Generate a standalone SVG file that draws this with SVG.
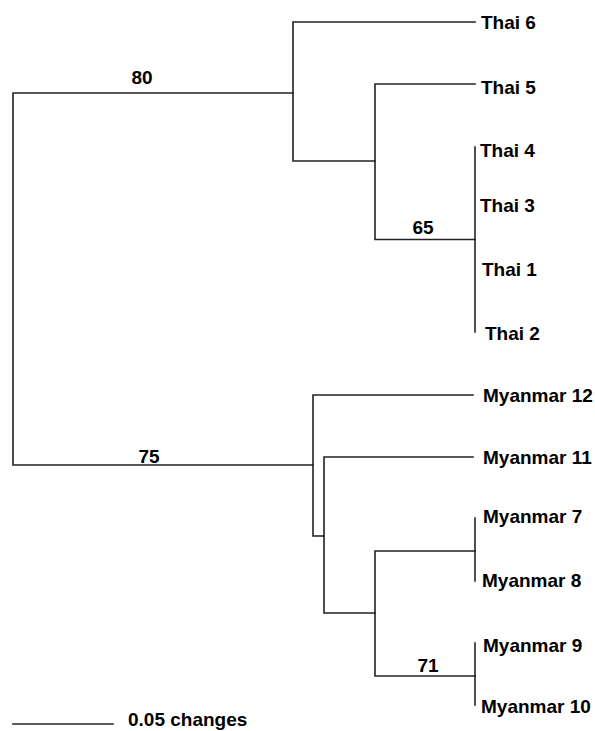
<svg xmlns="http://www.w3.org/2000/svg" width="595" height="731" viewBox="0 0 595 731">
<style>
.br{fill:none;stroke:#222;stroke-width:1.6;stroke-linecap:square}
.lb{font-family:"Liberation Sans",Arial,sans-serif;font-weight:bold;font-size:19px;fill:#000}
.bs{font-family:"Liberation Sans",Arial,sans-serif;font-weight:bold;font-size:19px;fill:#000;text-anchor:middle}
</style>
<rect width="595" height="731" fill="#fff"/>
<g id="connectors">
<path class="br" d="M293,93 H13 V465 H313"/>
<path class="br" d="M475,22 H293 V161 H375"/>
<path class="br" d="M475,84 H375 V239.5 H475"/>
<path class="br" d="M475,147 V332"/>
<path class="br" d="M473,395 H313 V536 H324"/>
<path class="br" d="M473,457 H324 V613 H375"/>
<path class="br" d="M475,551 H375 V676 H475"/>
<path class="br" d="M475,518 V581"/>
<path class="br" d="M475,643 V705"/>
<path class="br" d="M13,724 H113"/>
</g>
<g id="bootstrap">
<text class="bs" x="142" y="84">80</text>
<text class="bs" x="149" y="462.5">75</text>
<text class="bs" x="423" y="234">65</text>
<text class="bs" x="428" y="671.5">71</text>
</g>
<g id="thai6"><text class="lb" x="481" y="29">Thai 6</text></g>
<g id="thai5"><text class="lb" x="481" y="94">Thai 5</text></g>
<g id="thai4"><text class="lb" x="480" y="157">Thai 4</text></g>
<g id="thai3"><text class="lb" x="480" y="212">Thai 3</text></g>
<g id="thai1"><text class="lb" x="482" y="276">Thai 1</text></g>
<g id="thai2"><text class="lb" x="485" y="340">Thai 2</text></g>
<g id="myanmar12"><text class="lb" x="483" y="401.5">Myanmar 12</text></g>
<g id="myanmar11"><text class="lb" x="483" y="464">Myanmar 11</text></g>
<g id="myanmar7"><text class="lb" x="483" y="522.5">Myanmar 7</text></g>
<g id="myanmar8"><text class="lb" x="482" y="586.5">Myanmar 8</text></g>
<g id="myanmar9"><text class="lb" x="483" y="651.5">Myanmar 9</text></g>
<g id="myanmar10"><text class="lb" x="481" y="713">Myanmar 10</text></g>
<g id="scale"><text class="lb" x="128" y="726">0.05 changes</text></g>
</svg>
